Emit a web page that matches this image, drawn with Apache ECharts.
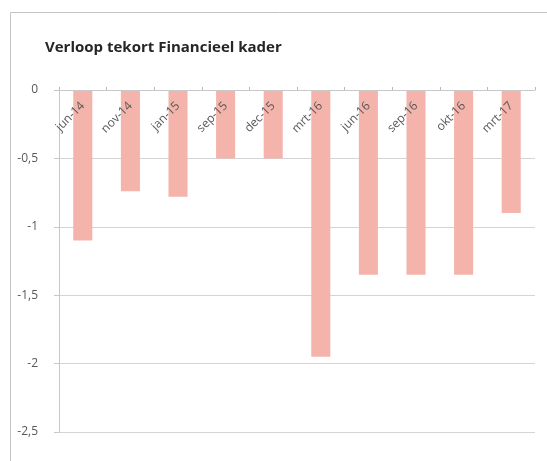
<!DOCTYPE html>
<html>
<head>
<meta charset="utf-8">
<title>Verloop tekort Financieel kader</title>
<script src="https://cdn.jsdelivr.net/npm/echarts@6/dist/echarts.min.js"></script>
<style>
    html, body { margin: 0; padding: 0; background: #fff; }
    #chart { width: 547px; height: 461px; }
</style>
</head>
<body>
<div id="chart"></div>
<script>
// data
var categories = ['jun-14', 'nov-14', 'jan-15', 'sep-15', 'dec-15', 'mrt-16', 'jun-16', 'sep-16', 'okt-16', 'mrt-17'];
var tekort = [-1.1, -0.74, -0.78, -0.5, -0.5, -1.95, -1.35, -1.35, -1.35, -0.9];
var yTicks = [0, -0.5, -1, -1.5, -2, -2.5];

var font = '"Open Sans", "Liberation Sans", sans-serif';

var myChart = echarts.init(document.getElementById('chart'), null, { renderer: 'canvas' });

var option = {
    backgroundColor: '#fff',
    animation: false,
    // kader om de grafiek heen
    graphic: [{
        type: 'rect',
        left: 8, top: 10,
        shape: { width: 538, height: 470 },
        style: { fill: 'none', stroke: '#c4c4c4', lineWidth: 1 },
        silent: true
    }],
    title: {
        text: 'Verloop tekort Financieel kader',
        left: 40, top: 35,
        textStyle: { fontFamily: font, fontSize: 15, fontWeight: 'bold', color: '#262626' }
    },
    grid: { left: 59, right: 12, top: 90, bottom: 29 },
    xAxis: {
        type: 'category',
        position: 'top', // nul-lijn bovenaan, labels eronder
        z: 5,
        data: categories,
        axisLine: { lineStyle: { color: '#c8c8c8' } },
        axisTick: { show: true, length: 3, lineStyle: { color: '#b8b8b8' } },
        axisLabel: {
            inside: true,
            rotate: 45,
            align: 'right',
            verticalAlign: 'middle',
            margin: 14,
            interval: 0,
            fontFamily: font,
            fontSize: 12,
            color: '#595959'
        },
        splitLine: { show: false }
    },
    yAxis: {
        type: 'value',
        min: yTicks[yTicks.length - 1],
        max: yTicks[0],
        interval: 0.5,
        axisLine: { show: true, lineStyle: { color: '#c8c8c8' } },
        axisTick: { show: true, length: 5, lineStyle: { color: '#c8c8c8' } },
        axisLabel: {
            margin: 21,
            fontFamily: font,
            fontSize: 12,
            color: '#595959',
            formatter: function (v) { return String(v).replace('.', ','); }
        },
        splitLine: { show: true, lineStyle: { color: '#d4d4d4' } }
    },
    series: [{
        name: 'tekort',
        type: 'bar',
        data: tekort,
        barCategoryGap: '60%',
        itemStyle: { color: '#F4B3AB' },
        z: 1
    }]
};

myChart.setOption(option);
</script>
</body>
</html>
